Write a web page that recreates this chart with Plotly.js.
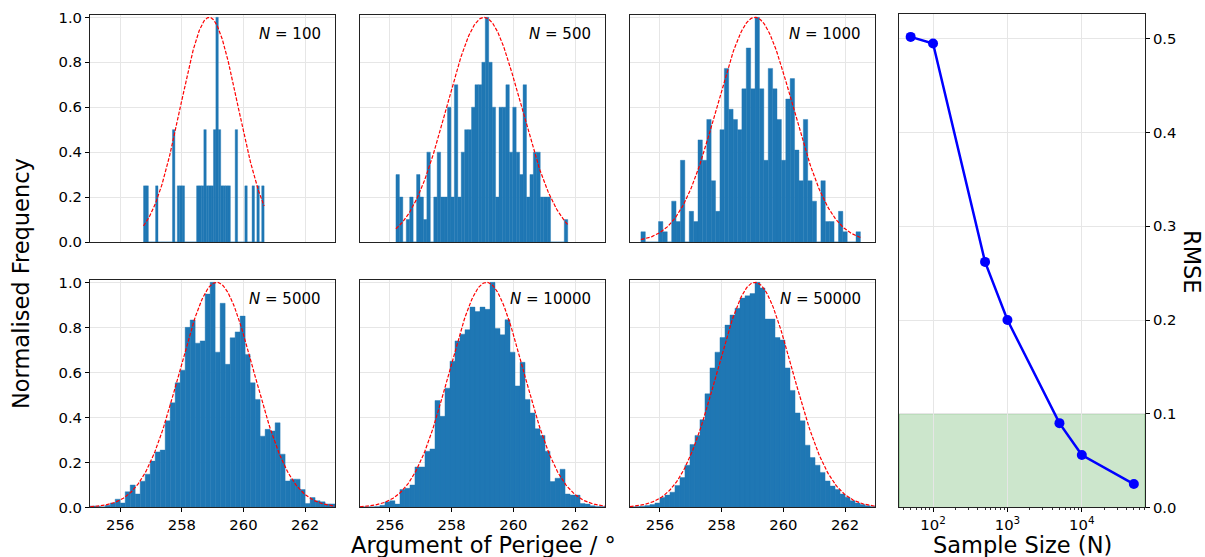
<!DOCTYPE html>
<html><head><meta charset="utf-8">
<script src="https://cdn.plot.ly/plotly-3.0.1.min.js"></script>
<style>html,body{margin:0;padding:0;background:#fff}#chart{width:1205px;height:557px}</style>
</head><body><div id="chart"></div>
<script>
// ---------------- data ----------------
const sampleSizes = [100, 500, 1000, 5000, 10000, 50000];
const binRanges = [[256.757, 260.670], [256.195, 261.762], [255.384, 262.497],
                   [255.027, 262.973], [255.027, 262.973], [255.027, 262.973]];
const counts100 = [1,1,0,0,0,1,0,0,0,0, 0,0,2,0,1,1,1,0,0,0, 0,0,1,1,1,2,1,1,1,2,
                   4,2,1,1,1,1,0,0,2,0, 0,0,1,0,0,1,0,1,0,1];
const counts500 = [3,2,0,1,2,0,3,2,1,4, 0,2,4,2,2,6,2,7,2,4, 5,5,6,7,7,8,10,8,6,2,
                   6,6,7,4,6,4,3,7,2,3, 4,4,2,2,2,0,0,0,0,1];
const counts1000 = [1,0,0,0,2,1,0,4,2,8, 0,3,2,10,8,12,6,3,11,17, 13,12,11,15,19,15,22,15,8,17,
                    15,12,8,14,16,9,6,12,6,4, 0,6,2,2,0,3,1,0,0,1];
const freq5000 = [0.007,0.006,0.003,0.01,0.02,0.037,0.02,0.07,0.1,0.06,
                  0.117,0.148,0.206,0.247,0.255,0.385,0.465,0.554,0.61,0.8,
                  0.833,0.73,0.74,0.948,1.0,0.69,0.907,0.636,0.754,0.78,
                  0.85,0.68,0.554,0.48,0.317,0.347,0.34,0.376,0.237,0.118,
                  0.126,0.126,0.08,0.018,0.044,0.03,0.025,0.016,0.016];
const freq10000 = [0.003,0.003,0.003,0.005,0.01,0.025,0.03,0.015,0.08,0.085,
                   0.1,0.18,0.18,0.25,0.26,0.475,0.405,0.53,0.65,0.74,
                   0.77,0.79,0.89,0.87,0.89,0.88,1.0,0.795,0.767,0.834,
                   0.69,0.54,0.645,0.48,0.42,0.35,0.32,0.25,0.115,0.13,
                   0.17,0.06,0.055,0.055,0.018,0.015,0.008,0.005,0.005];
const freq50000 = [0.003,0.004,0.006,0.009,0.013,0.02,0.044,0.055,0.068,0.098,
                   0.133,0.188,0.28,0.32,0.39,0.505,0.62,0.69,0.755,0.81,
                   0.855,0.885,0.93,0.94,0.95,1.0,0.975,0.837,0.837,0.755,
                   0.744,0.62,0.52,0.42,0.385,0.277,0.222,0.188,0.156,0.118,
                   0.095,0.08,0.06,0.045,0.03,0.02,0.013,0.008,0.005];
const fitMu = [258.89, 259.05, 259.08, 259.13, 259.13, 259.08];
const fitSigma = [0.93, 1.2, 1.224, 1.2, 1.2, 1.22];
const rmseN = [50, 100, 500, 1000, 5000, 10000, 50000];
const rmseVals = [0.502, 0.495, 0.262, 0.200, 0.090, 0.056, 0.025];
const xTicks = [256, 258, 260, 262];
const yTicks = [0, 0.2, 0.4, 0.6, 0.8, 1.0];
const rmseTicks = [0, 0.1, 0.2, 0.3, 0.4, 0.5];
const rmseXTicks = [100, 1000, 10000];
const rmseXTickText = ['10<sup>2</sup>', '10<sup>3</sup>', '10<sup>4</sup>'];
const rmseMinor = [40,50,60,70,80,90,200,300,400,500,600,700,800,900,
                   2000,3000,4000,5000,6000,7000,8000,9000,20000,30000,40000,50000,60000,70000];
const rmseTarget = 0.1;

// ---------------- build ----------------
const normalise = a => { const m = Math.max(...a); return a.map(v => v / m); };
const heights = [normalise(counts100), normalise(counts500), normalise(counts1000),
                 freq5000, freq10000, freq50000];

const colDom = [[0.07469, 0.27801], [0.29851, 0.50207], [0.52257, 0.72614]];
const rowDom = [[0.56553, 0.97307], [0.08887, 0.49731]];
const FONT = 'DejaVu Sans, Verdana, sans-serif';
const GRID = '#e6e6e6';
const TICK = 14.8, LABEL = 22.5;

const traces = [];
const layout = {
  width: 1205, height: 557,
  margin: {l: 0, r: 0, t: 0, b: 0},
  paper_bgcolor: '#fff', plot_bgcolor: '#fff',
  showlegend: false, bargap: 0, barmode: 'overlay',
  font: {family: FONT, size: TICK, color: '#000'},
  annotations: [], shapes: []
};

heights.forEach((h, i) => {
  const k = i + 1;
  const xa = 'x' + k, ya = 'y' + k;
  const [lo, hi] = binRanges[i];
  const w = (hi - lo) / h.length;
  const centers = h.map((_, j) => lo + (j + 0.5) * w);
  traces.push({type: 'bar', x: centers, y: h, width: w, xaxis: xa, yaxis: ya,
    marker: {color: '#1f77b4', line: {width: 0.4, color: '#1f77b4'}}, hoverinfo: 'skip'});
  const cx = [], cy = [];
  for (let j = 0; j <= 200; j++) {
    const x = lo + (hi - lo) * j / 200;
    cx.push(x);
    cy.push(Math.exp(-Math.pow(x - fitMu[i], 2) / (2 * fitSigma[i] * fitSigma[i])));
  }
  traces.push({type: 'scatter', mode: 'lines', x: cx, y: cy, xaxis: xa, yaxis: ya,
    line: {color: 'red', width: 1.2, dash: '3.7px,1.6px'}, hoverinfo: 'skip'});

  const row = Math.floor(i / 3), col = i % 3;
  const axKey = k === 1 ? '' : String(k);
  layout['xaxis' + axKey] = {
    domain: colDom[col], anchor: ya, range: [255.02, 262.97],
    tickvals: xTicks, showticklabels: row === 1, ticks: row === 1 ? 'outside' : '',
    ticklen: 4, tickwidth: 1, tickcolor: '#000',
    showgrid: true, gridcolor: GRID, gridwidth: 1, zeroline: false,
    showline: true, mirror: true, linecolor: '#222', linewidth: 1,
    tickfont: {size: TICK, color: '#000'}
  };
  layout['yaxis' + axKey] = {
    domain: rowDom[row], anchor: xa, range: [0, 1.0104],
    tickvals: yTicks, tickformat: '.1f', showticklabels: col === 0,
    ticks: col === 0 ? 'outside' : '', ticklen: 4, tickwidth: 1, tickcolor: '#000',
    showgrid: true, gridcolor: GRID, gridwidth: 1, zeroline: false,
    showline: true, mirror: true, linecolor: '#222', linewidth: 1,
    tickfont: {size: TICK, color: '#000'}
  };
  layout.annotations.push({
    xref: xa + ' domain', yref: ya + ' domain', x: 0.95, y: 0.915,
    xanchor: 'right', yanchor: 'middle', showarrow: false,
    text: '<i>N</i> = ' + sampleSizes[i], font: {size: 15, color: '#000'}
  });
});

// RMSE panel
traces.push({type: 'scatter', mode: 'lines+markers', x: rmseN, y: rmseVals,
  xaxis: 'x7', yaxis: 'y7', line: {color: '#0000ff', width: 2.5},
  marker: {color: '#0000ff', size: 10}, hoverinfo: 'skip'});
layout.xaxis7 = {
  domain: [0.74647, 0.95021], anchor: 'y7', type: 'log', range: [1.549, 4.849],
  tickmode: 'array', tickvals: rmseXTicks, ticktext: rmseXTickText,
  ticks: 'outside', ticklen: 4, tickwidth: 1, tickcolor: '#000',
  minor: {tickmode: 'array', tickvals: rmseMinor, ticks: 'outside', ticklen: 2,
          tickwidth: 0.8, tickcolor: '#000', showgrid: false},
  showgrid: true, gridcolor: GRID, zeroline: false,
  showline: true, mirror: true, linecolor: '#222', linewidth: 1,
  tickfont: {size: TICK, color: '#000'}
};
layout.yaxis7 = {
  domain: [0.08887, 0.97397], anchor: 'x7', side: 'right', range: [0, 0.5259],
  tickvals: rmseTicks, tickformat: '.1f',
  ticks: 'outside', ticklen: 4, tickwidth: 1, tickcolor: '#000',
  showgrid: true, gridcolor: GRID, zeroline: false,
  showline: true, mirror: true, linecolor: '#222', linewidth: 1,
  tickfont: {size: TICK, color: '#000'}
};
layout.shapes.push({type: 'rect', xref: 'x7 domain', yref: 'y7', x0: 0, x1: 1,
  y0: 0, y1: rmseTarget, fillcolor: 'rgba(0,128,0,0.2)',
  line: {color: 'rgba(0,128,0,0.3)', width: 1}, layer: 'below'});

// axis titles
const px = (x) => x / 1205, py = (y) => 1 - y / 557;
layout.annotations.push(
  {xref: 'paper', yref: 'paper', x: px(21), y: py(284), textangle: -90,
   text: 'Normalised Frequency', showarrow: false, font: {size: LABEL, color: '#000'},
   xanchor: 'center', yanchor: 'middle'},
  {xref: 'paper', yref: 'paper', x: px(483), y: py(545),
   text: 'Argument of Perigee / °', showarrow: false, font: {size: LABEL, color: '#000'},
   xanchor: 'center', yanchor: 'middle'},
  {xref: 'paper', yref: 'paper', x: px(1022), y: py(545),
   text: 'Sample Size (N)', showarrow: false, font: {size: LABEL, color: '#000'},
   xanchor: 'center', yanchor: 'middle'},
  {xref: 'paper', yref: 'paper', x: px(1192), y: py(262), textangle: 90,
   text: 'RMSE', showarrow: false, font: {size: LABEL, color: '#000'},
   xanchor: 'center', yanchor: 'middle'}
);

Plotly.newPlot('chart', traces, layout, {staticPlot: true, displayModeBar: false});
</script></body></html>
